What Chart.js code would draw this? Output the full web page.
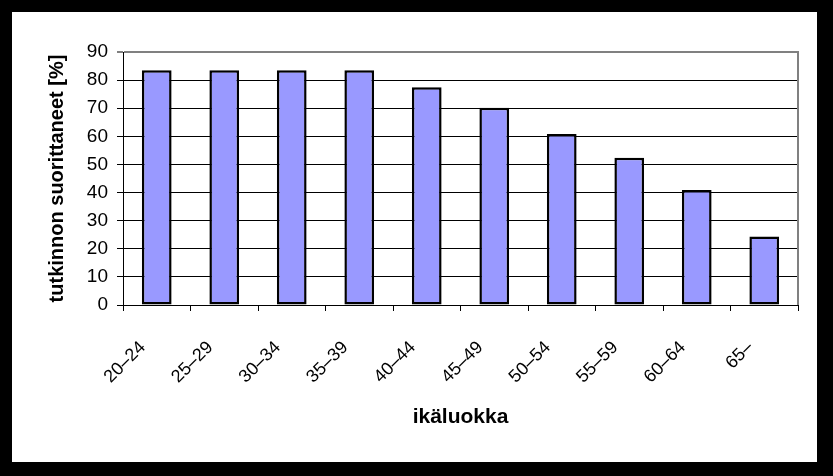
<!DOCTYPE html>
<html><head><meta charset="utf-8">
<script src="https://cdn.jsdelivr.net/npm/chart.js@4"></script>
<style>
html,body{margin:0;padding:0;background:#000;width:833px;height:476px;overflow:hidden}
#wrap{position:absolute;left:12px;top:12px;width:805px;height:450px;background:#fff}
canvas{display:block}
</style></head>
<body><div id="wrap"><canvas id="c" width="805" height="450"></canvas></div>
<script>
const categories = ["20–24","25–29","30–34","35–39","40–44","45–49","50–54","55–59","60–64","65–"];
const values = [83.5, 83.5, 83.5, 83.5, 77.5, 70.2, 60.8, 52.4, 40.9, 24.4];
const yMin = 0, yMax = 90, yStep = 10;
const xTitle = "ikäluokka";
const yTitle = "tutkinnon suorittaneet [%]";

const FONT = "'Liberation Sans', Arial, sans-serif";

const frameRight = {
  id: 'frameRight',
  afterDraw(chart) {
    const {ctx, chartArea: a} = chart;
    ctx.save();
    ctx.strokeStyle = '#808080';
    ctx.lineWidth = 2;
    ctx.beginPath();
    ctx.moveTo(a.right, a.top - 1);
    ctx.lineTo(a.right, a.bottom);
    ctx.stroke();
    ctx.restore();
  }
};

new Chart(document.getElementById('c'), {
  type: 'bar',
  data: {
    labels: categories,
    datasets: [{
      data: values,
      backgroundColor: '#9999FF',
      borderColor: '#000',
      borderWidth: 2.5,
      borderSkipped: false,
      categoryPercentage: 1,
      barPercentage: 0.44
    }]
  },
  options: {
    responsive: false,
    devicePixelRatio: 1,
    animation: false,
    layout: {padding: {top: 40, right: 19, left: 0, bottom: 0}},
    plugins: {legend: {display: false}, tooltip: {enabled: false}},
    scales: {
      x: {
        afterFit(s) { s.height = 157; },
        grid: {offset: true, drawOnChartArea: false, drawTicks: true, tickLength: 6, color: '#000', lineWidth: 1},
        border: {display: true, color: '#000', width: 1},
        ticks: {
          autoSkip: false, minRotation: 45, maxRotation: 45,
          color: '#000', font: {family: FONT, size: 18},
          labelOffset: -14, padding: 26
        },
        title: {display: true, text: xTitle, color: '#000', font: {family: FONT, size: 21, weight: 'bold'}, padding: {top: 0, bottom: 32}}
      },
      y: {
        min: yMin, max: yMax,
        afterFit(s) { s.width = 111; },
        grid: {
          color: (c) => (c.tick && c.tick.value === yMax) ? '#808080' : '#000',
          lineWidth: (c) => (c.tick && c.tick.value === yMax) ? 2 : 1,
          tickLength: 6, drawTicks: true
        },
        border: {display: true, color: '#000', width: 1},
        ticks: {stepSize: yStep, color: '#000', font: {family: FONT, size: 19}, padding: 9},
        title: {display: true, text: yTitle, color: '#000', font: {family: FONT, size: 20, weight: 'bold'}, padding: {top: 33, bottom: 0}}
      }
    }
  },
  plugins: [frameRight]
});
</script>
</body></html>
